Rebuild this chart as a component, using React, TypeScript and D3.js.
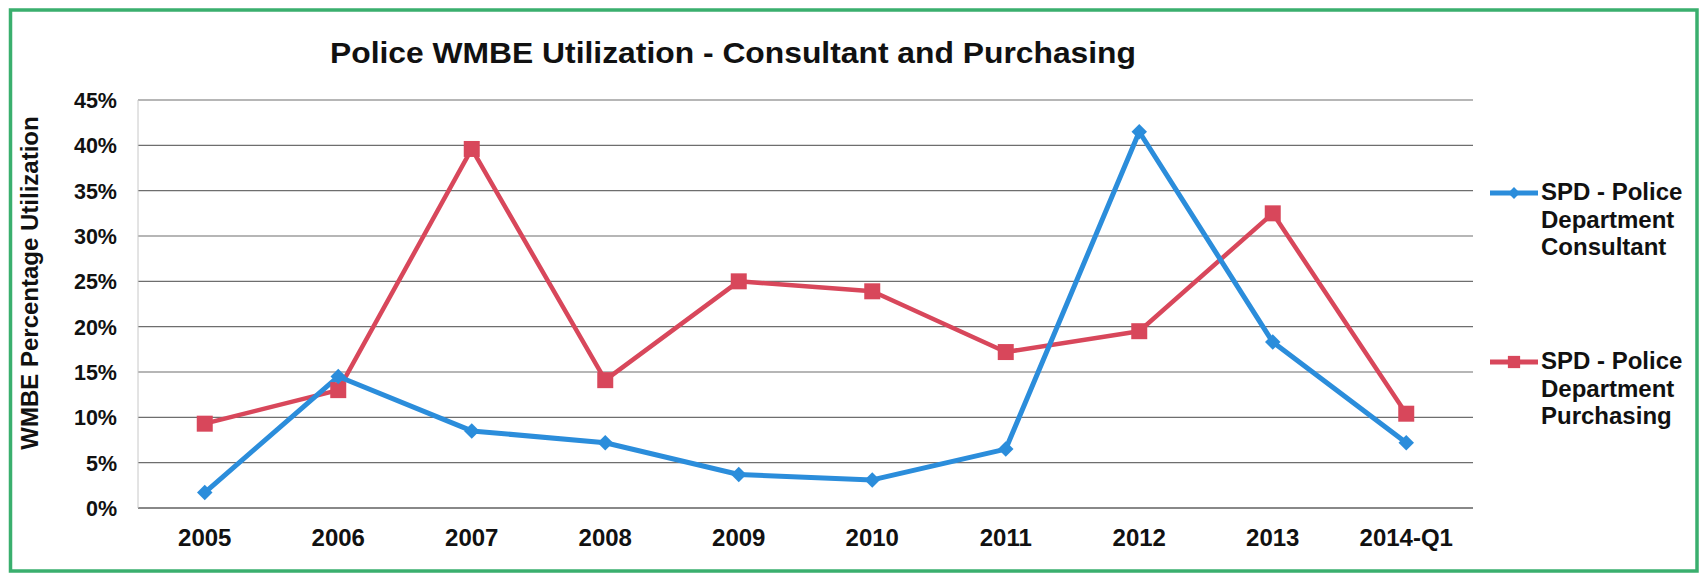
import React from "react";
import * as d3 from "d3";

const categories = ["2005", "2006", "2007", "2008", "2009", "2010", "2011", "2012", "2013", "2014-Q1"];
const consultant = [0.017, 0.145, 0.085, 0.072, 0.037, 0.031, 0.065, 0.415, 0.183, 0.072];
const purchasing = [0.093, 0.13, 0.396, 0.141, 0.25, 0.239, 0.172, 0.195, 0.325, 0.104];
const yTicks = [0, 0.05, 0.1, 0.15, 0.2, 0.25, 0.3, 0.35, 0.4, 0.45];
const title = "Police WMBE Utilization - Consultant and Purchasing";
const yTitle = "WMBE Percentage Utilization";
const legendConsultant = ["SPD - Police", "Department", "Consultant"];
const legendPurchasing = ["SPD - Police", "Department", "Purchasing"];

const W = 1701;
const H = 573;
const plot = { left: 138, right: 1473, top: 100, bottom: 508 };
const BLUE = "#2b8ddb";
const RED = "#d8475b";
const FONT = "'Liberation Sans', Arial, Helvetica, sans-serif";

export default function App() {
  const x = d3.scalePoint<string>().domain(categories).range([plot.left, plot.right]).padding(0.5);
  const y = d3.scaleLinear().domain([0, 0.45]).range([plot.bottom, plot.top]);
  const line = d3
    .line<number>()
    .x((_, i) => x(categories[i]) as number)
    .y((d) => y(d));
  const squareMarker = d3.symbol().type(d3.symbolSquare).size(256)();
  const diamondMarker = d3.symbol().type(d3.symbolSquare).size(120)();
  const legendSquare = d3.symbol().type(d3.symbolSquare).size(150)();
  const legendDiamond = d3.symbol().type(d3.symbolSquare).size(70)();

  return (
    <svg
      width={W}
      height={H}
      viewBox={`0 0 ${W} ${H}`}
      style={{ position: "absolute", left: 0, top: 0, background: "#fff" }}
      fontFamily={FONT}
    >
      <rect x={0} y={0} width={W} height={H} fill="#fff" />
      <rect x={10.5} y={10} width={1686.5} height={561} fill="#fff" stroke="#3aaf6e" strokeWidth={3.5} />

      <text x={733} y={63} textAnchor="middle" fontSize={30} fontWeight="bold" fill="#111" textLength={806} lengthAdjust="spacingAndGlyphs">
        {title}
      </text>

      {/* gridlines */}
      {yTicks.map((t) => (
        <line
          key={t}
          x1={plot.left}
          x2={plot.right}
          y1={y(t)}
          y2={y(t)}
          stroke={t === 0 ? "#444" : "#555"}
          strokeWidth={t === 0 ? 1.4 : 1.1}
          strokeOpacity={0.85}
        />
      ))}
      <line x1={plot.left} x2={plot.left} y1={plot.top} y2={plot.bottom} stroke="#c8c8c8" strokeWidth={1} />

      {/* y tick labels */}
      {yTicks.map((t) => (
        <text key={t} x={117} y={y(t) + 8} textAnchor="end" fontSize={21.5} fontWeight="bold" fill="#111">
          {`${Math.round(t * 100)}%`}
        </text>
      ))}

      {/* x tick labels */}
      {categories.map((c) => (
        <text key={c} x={x(c) as number} y={546} textAnchor="middle" fontSize={24} fontWeight="bold" fill="#111">
          {c}
        </text>
      ))}

      <text
        transform={`translate(38,283) rotate(-90)`}
        textAnchor="middle"
        fontSize={24}
        fontWeight="bold"
        fill="#111"
      >
        {yTitle}
      </text>

      {/* series */}
      <path d={line(purchasing) || ""} fill="none" stroke={RED} strokeWidth={4.5} strokeLinejoin="round" />
      <path d={line(consultant) || ""} fill="none" stroke={BLUE} strokeWidth={5} strokeLinejoin="round" />
      {purchasing.map((v, i) => (
        <path key={"p" + i} d={squareMarker || ""} transform={`translate(${x(categories[i])},${y(v)})`} fill={RED} />
      ))}
      {consultant.map((v, i) => (
        <path
          key={"c" + i}
          d={diamondMarker || ""}
          transform={`translate(${x(categories[i])},${y(v)}) rotate(45)`}
          fill={BLUE}
        />
      ))}

      {/* legend */}
      <g>
        <line x1={1490} x2={1538} y1={193} y2={193} stroke={BLUE} strokeWidth={5} />
        <path d={legendDiamond || ""} transform="translate(1514,193) rotate(45)" fill={BLUE} />
        {legendConsultant.map((t, i) => (
          <text key={t} x={1541} y={200 + i * 27.5} fontSize={24} fontWeight="bold" fill="#111">
            {t}
          </text>
        ))}
        <line x1={1490} x2={1538} y1={362} y2={362} stroke={RED} strokeWidth={5} />
        <path d={legendSquare || ""} transform="translate(1514,362)" fill={RED} />
        {legendPurchasing.map((t, i) => (
          <text key={t + i} x={1541} y={369 + i * 27.5} fontSize={24} fontWeight="bold" fill="#111">
            {t}
          </text>
        ))}
      </g>
    </svg>
  );
}
